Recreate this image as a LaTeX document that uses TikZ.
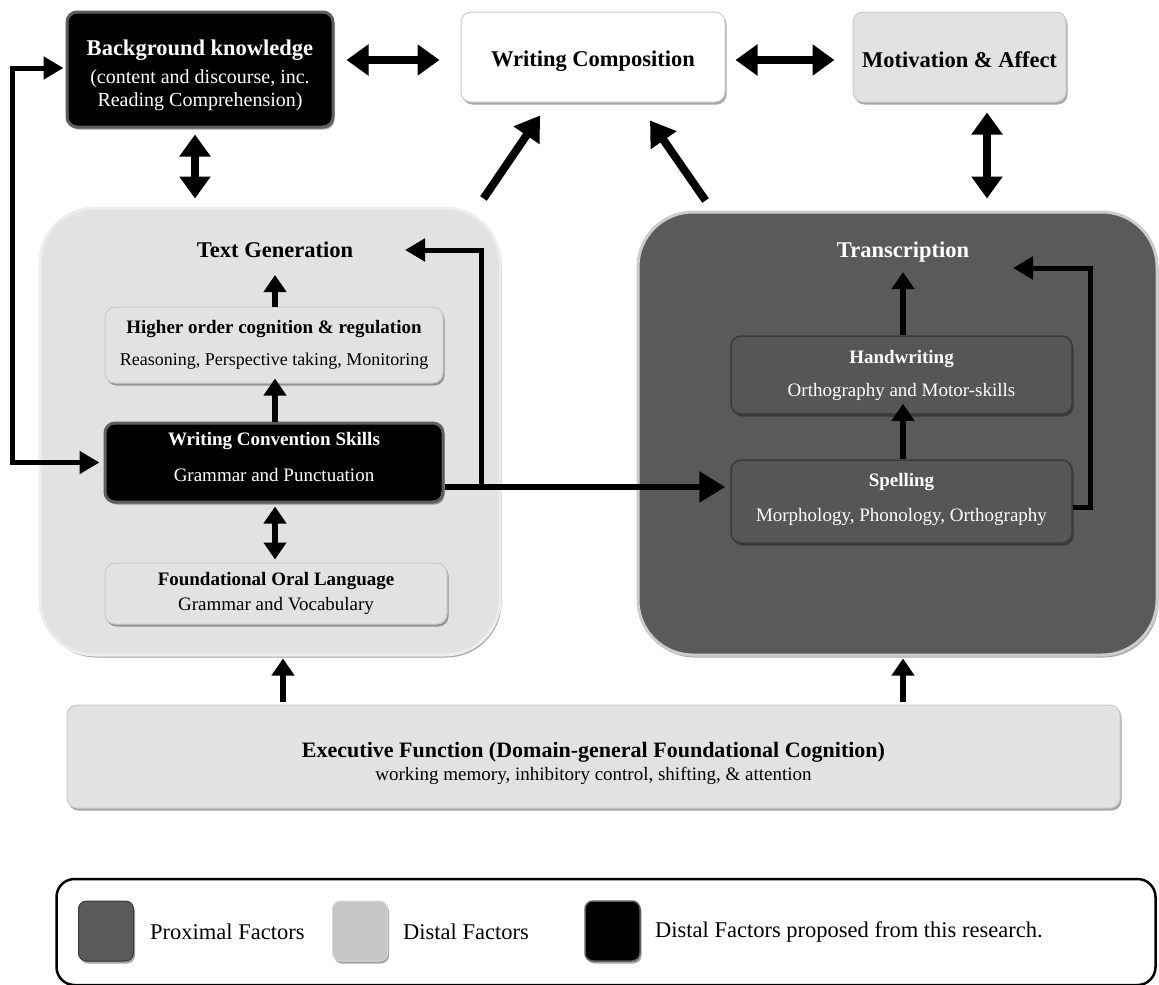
\documentclass[tikz,border=0pt]{standalone}
\usepackage{fontspec}
\setmainfont{Liberation Serif}
\usetikzlibrary{arrows.meta,shadows,calc}

\definecolor{lightfill}{HTML}{E2E2E2}
\definecolor{lightedge}{HTML}{C9C9C9}
\definecolor{darkfill}{HTML}{5A5A5A}
\definecolor{darkedge}{HTML}{3A3A3A}
\definecolor{blackedge}{HTML}{5E5E5E}
\definecolor{swatchlight}{HTML}{C6C6C6}

% invisible struts that push a text block down (padtop) or up (padbot)
\newcommand{\padtop}[1]{\rule{0pt}{#1}}
\newcommand{\padbot}[1]{\rule[-#1]{0pt}{#1}}

\tikzset{
  softshadow/.style={drop shadow={shadow xshift=1.5pt,shadow yshift=-2.5pt,opacity=0.35,fill=black}},
  box/.style={rectangle,rounded corners=10pt,inner sep=0pt,align=center,softshadow},
  lightbox/.style={box,fill=lightfill,draw=lightedge,line width=1pt,text=black},
  whitebox/.style={box,fill=white,draw=lightedge,line width=1pt,text=black},
  blackbox/.style={box,fill=black,draw=blackedge,line width=3pt,text=white},
  darkbox/.style={box,fill=darkfill!96!black,draw=darkedge,line width=1.5pt,text=white},
  container/.style={rectangle,rounded corners=55pt,inner sep=0pt,line width=3pt,softshadow},
  ttl/.style={font=\fontsize{22.5}{26}\selectfont\bfseries},
  inner/.style={font=\fontsize{19}{22}\selectfont},
  dbl/.style={line width=8pt,{Triangle[length=22pt,width=30pt]}-{Triangle[length=22pt,width=30pt]}},
  bigarr/.style={line width=8pt,-{Triangle[length=24pt,width=30pt]}},
  uparr/.style={line width=6pt,-{Triangle[length=17pt,width=22pt]}},
  idbl/.style={line width=6pt,{Triangle[length=17pt,width=22pt]}-{Triangle[length=17pt,width=22pt]}},
  link/.style={line width=6pt,-{Triangle[length=26pt,width=30pt]}},
  loop/.style={line width=5pt,-{Triangle[length=20pt,width=22pt]}},
  loopboth/.style={line width=5pt,{Triangle[length=20pt,width=22pt]}-{Triangle[length=20pt,width=22pt]}},
  swatch/.style={rectangle,rounded corners=8pt,inner sep=0pt,minimum width=55pt,minimum height=60pt,softshadow},
  legtext/.style={anchor=west,inner sep=0pt,font=\fontsize{22.5}{26}\selectfont}
}

\begin{document}
\begin{tikzpicture}[x=1pt,y=-1pt]
\useasboundingbox (0,0) rectangle (1159,985);

% top row
\node[blackbox,minimum width=266pt,minimum height=115pt,font=\fontsize{20}{23}\selectfont] (bk) at (200,69.5)
  {\padtop{27pt}{\fontsize{22.5}{26}\selectfont\bfseries Background knowledge}\\[5pt](content and discourse, inc.\\Reading Comprehension)};
\node[whitebox,minimum width=264pt,minimum height=90pt,ttl] (wc) at (593,57) {\padtop{23pt}Writing Composition};
\node[lightbox,minimum width=213pt,minimum height=90pt,ttl] (ma) at (959.5,57) {\padtop{21pt}Motivation \& Affect};

% the two large groups
\node[container,fill=lightfill,draw=white!93!black,minimum width=460pt,minimum height=447pt] (tg) at (270,431.5) {};
\node[container,fill=darkfill,draw=white!80!black,minimum width=519pt,minimum height=443pt] (tr) at (897.5,433.5) {};
\node[ttl] (tgt) at (275,250) {Text Generation};
\node[ttl,text=white] (trt) at (903,252) {Transcription};

% text generation components
\node[lightbox,minimum width=338pt,minimum height=76pt,inner] (ho) at (274,345)
  {{\bfseries Higher order cognition \& regulation}\\[10pt]{\fontsize{18}{22}\selectfont Reasoning, Perspective taking, Monitoring}};
\node[blackbox,minimum width=338pt,minimum height=79pt,inner] (wcs) at (274,462.5)
  {{\bfseries Writing Convention Skills}\\[14pt]Grammar and Punctuation\padbot{11pt}};
\node[lightbox,minimum width=342pt,minimum height=61pt,inner] (fol) at (276,593.5)
  {{\bfseries Foundational Oral Language}\\[3pt]Grammar and Vocabulary};

% transcription components
\node[darkbox,minimum width=341pt,minimum height=78pt,inner] (hw) at (901.5,375)
  {{\bfseries Handwriting}\\[11pt]Orthography and Motor-skills};
\node[darkbox,minimum width=341pt,minimum height=83pt,inner] (sp) at (901.5,501.5)
  {{\bfseries Spelling}\\[13pt]Morphology, Phonology, Orthography\padbot{9pt}};

% executive function
\node[lightbox,minimum width=1053pt,minimum height=103pt,inner] (ef) at (593.5,756.5)
  {\padtop{29pt}{\fontsize{22}{25}\selectfont\bfseries Executive Function (Domain-general Foundational Cognition)}\\[1pt]working memory, inhibitory control, shifting, \& attention};

% top-row connectors
\draw[dbl] ($(bk.east |- wc.west)+(12,3)$) -- ($(wc.west)+(-21,3)$);
\draw[dbl] ($(wc.east)+(10,3)$) -- ($(ma.west)+(-18,3)$);
\draw[dbl] ($(bk.south)+(-5,6)$) -- ($(tg.north -| bk.south)+(-5,-8)$);
\draw[dbl] ($(ma.south)+(27.5,10)$) -- ($(tr.north -| ma.south)+(27.5,-12)$);
\draw[bigarr] ($(tg.north east)+(-18,-8)$) -- ($(wc.south)+(-53,13)$);
\draw[bigarr] ($(tr.north west)+(69,-10)$) -- ($(wc.south)+(57,18)$);

% inside text generation
\draw[uparr] ($(ho.north)+(1,0)$) -- ($(tgt.center)+(0,25)$);
\draw[uparr] ($(wcs.north)+(1,0)$) -- ($(ho.south)+(1,-5)$);
\draw[idbl] ($(wcs.south)+(1,3)$) -- ($(fol.south |- fol.north)+(-1,-3)$);

% inside transcription
\draw[uparr] ($(hw.north)+(1.5,0)$) -- ($(trt.center)+(0,20)$);
\draw[uparr] ($(sp.north)+(1.5,0)$) -- ($(hw.south)+(1.5,-11)$);

% cross links
\draw[link] ($(wcs.east)+(0,24.5)$) -- ($(sp.west |- wcs.east)+(-5,24.5)$);
\draw[loop] ($(wcs.east)+(37,24.5)$) |- ($(tgt.center)+(130,0)$);
\draw[loop] ($(sp.east)+(0,6)$) -| ($(sp.east)+(18,6)$) |- ($(trt.center)+(110,16)$);
\draw[loopboth] ($(bk.west)+(-2,-1.5)$) -- ++(-51,0) |- ($(wcs.west)+(-4,0)$);

% executive function feeds both groups
\draw[uparr] ($(ef.north)+(-310.5,-3)$) -- ($(tg.south)+(13,2)$);
\draw[uparr] ($(ef.north)+(309.5,-3)$) -- ($(tr.south)+(5.5,2)$);

% legend
\node[rectangle,rounded corners=18pt,draw=black,line width=2.5pt,fill=white,minimum width=1099pt,minimum height=106pt] (leg) at (606,932) {};
\node[swatch,fill=darkfill,draw=darkedge,line width=1pt] (sw1) at (106,931) {};
\node[swatch,fill=swatchlight,draw=white!85!black,line width=1pt] (sw2) at (360,931) {};
\node[swatch,fill=black,draw=blackedge,line width=1.5pt] (sw3) at (612.5,931) {};
\node[legtext] (lt1) at (150,932) {Proximal Factors};
\node[legtext] (lt2) at (403,932) {Distal Factors};
\node[legtext] (lt3) at (655,932) {Distal Factors proposed from this research.};
\end{tikzpicture}
\end{document}
